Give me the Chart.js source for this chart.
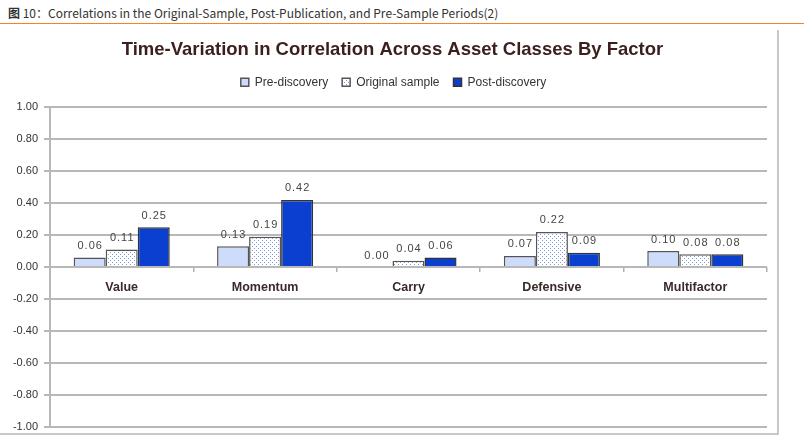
<!DOCTYPE html>
<html>
<head>
<meta charset="utf-8">
<script src="https://cdn.jsdelivr.net/npm/chart.js@4.4.0/dist/chart.umd.min.js"></script>
<style>
  body { margin: 0; background: #fff; width: 804px; height: 442px; overflow: hidden; position: relative; }
  #hdr { position: absolute; left: 8px; top: 4px; font: 12px "Noto Sans CJK SC", sans-serif; color: #333; }
  #rule { position: absolute; left: 0; top: 23px; width: 804px; border-top: 1.5px solid #f08428; }
  #frame { position: absolute; left: 0; top: 30px; width: 777px; height: 403px; border-right: 2px solid #c8c8c8; border-bottom: 2px solid #c8c8c8; }
  #wrap { position: absolute; left: 0; top: 26px; }
</style>
</head>
<body>
<div id="hdr"><b>图</b> 10：Correlations in the Original-Sample, Post-Publication, and Pre-Sample Periods(2)</div>
<div id="rule"></div>
<div id="frame"></div>
<div id="wrap"><canvas id="myChart" width="804" height="416"></canvas></div>
<script>
const ctx = document.getElementById("myChart");

/* data */
const factors = ["Value", "Momentum", "Carry", "Defensive", "Multifactor"];
const preDiscovery = [0.06, 0.13, 0.00, 0.07, 0.10];
const originalSample = [0.11, 0.19, 0.04, 0.22, 0.08];
const postDiscovery = [0.25, 0.42, 0.06, 0.09, 0.08];

/* dotted fill for the original sample bars */
function dots() {
  const c = document.createElement("canvas");
  c.width = 4;
  c.height = 4;
  const g = c.getContext("2d");
  g.fillStyle = "#ffffff";
  g.fillRect(0, 0, 4, 4);
  g.fillStyle = "#7f9ad8";
  g.fillRect(0, 0, 1, 1);
  g.fillRect(2, 2, 1, 1);
  return g.createPattern(c, "repeat");
}

/* more room under the legend */
const legendGap = {
  id: "legendGap",
  afterInit(chart) {
    const fit = chart.legend.fit;
    chart.legend.fit = function () {
      fit.call(this);
      this.height += 9;
    };
  },
  // title and legend sit a bit right of the canvas middle
  afterLayout(chart) {
    chart.titleBlock.left += 18;
    chart.legend.left += 20;
  },
};

/* numbers above the bars */
const valueLabels = {
  id: "valueLabels",
  afterDatasetsDraw(chart) {
    const c = chart.ctx;
    c.save();
    c.font = '11px "Liberation Sans"';
    c.fillStyle = "#444";
    c.textAlign = "center";
    c.textBaseline = "bottom";
    c.letterSpacing = "1px";
    chart.data.datasets.forEach((ds, i) => {
      chart.getDatasetMeta(i).data.forEach((bar, j) => {
        c.fillText(ds.data[j].toFixed(2), bar.x + 0.5, bar.y - 6);
      });
    });
    c.restore();
  },
};

new Chart(ctx, {
  type: "bar",
  data: {
    labels: factors,
    datasets: [
      {
        label: "Pre-discovery",
        data: preDiscovery,
        backgroundColor: "#cddcfb",
        borderColor: "#555",
        borderWidth: 1.5,
      },
      {
        label: "Original sample",
        data: originalSample,
        backgroundColor: dots(),
        borderColor: "#555",
        borderWidth: 1.5,
      },
      {
        label: "Post-discovery",
        data: postDiscovery,
        backgroundColor: "#0a3fd0",
        borderColor: "#333",
        borderWidth: 1.5,
      },
    ],
  },
  options: {
    responsive: false,
    animation: false,
    categoryPercentage: 0.67,
    barPercentage: 1,
    layout: { padding: { right: 37, bottom: 15 } },
    plugins: {
      title: {
        display: true,
        text: "Time-Variation in Correlation Across Asset Classes By Factor",
        color: "#3b1f1f",
        font: { family: '"Liberation Sans"', weight: "bold", size: 18.5 },
        padding: { top: 13, bottom: 1 },
      },
      legend: {
        labels: {
          boxWidth: 8,
          boxHeight: 8,
          color: "#333",
          padding: 14,
          font: { family: '"Liberation Sans"', size: 12 },
        },
      },
      tooltip: { enabled: false },
    },
    scales: {
      x: {
        position: { y: 0 },
        grid: { drawOnChartArea: false, tickLength: 5, color: "#b0b0b0", lineWidth: 1.5 },
        border: { display: false },
        ticks: {
          color: "#3a2a2a",
          padding: 8,
          font: { family: '"Liberation Sans"', weight: "bold", size: 12.5 },
        },
      },
      y: {
        min: -1,
        max: 1,
        afterFit(scale) {
          scale.width = 50;
        },
        grid: { color: "#b8b8b8", lineWidth: 2, tickLength: 6 },
        border: { color: "#b8b8b8", width: 2 },
        ticks: {
          stepSize: 0.2,
          padding: 6,
          color: "#333",
          font: { family: '"Liberation Sans"', size: 11 },
          callback: (v) => (Math.abs(v) < 1e-9 ? 0 : v).toFixed(2),
        },
      },
    },
  },
  plugins: [legendGap, valueLabels],
});
</script>
</body>
</html>
